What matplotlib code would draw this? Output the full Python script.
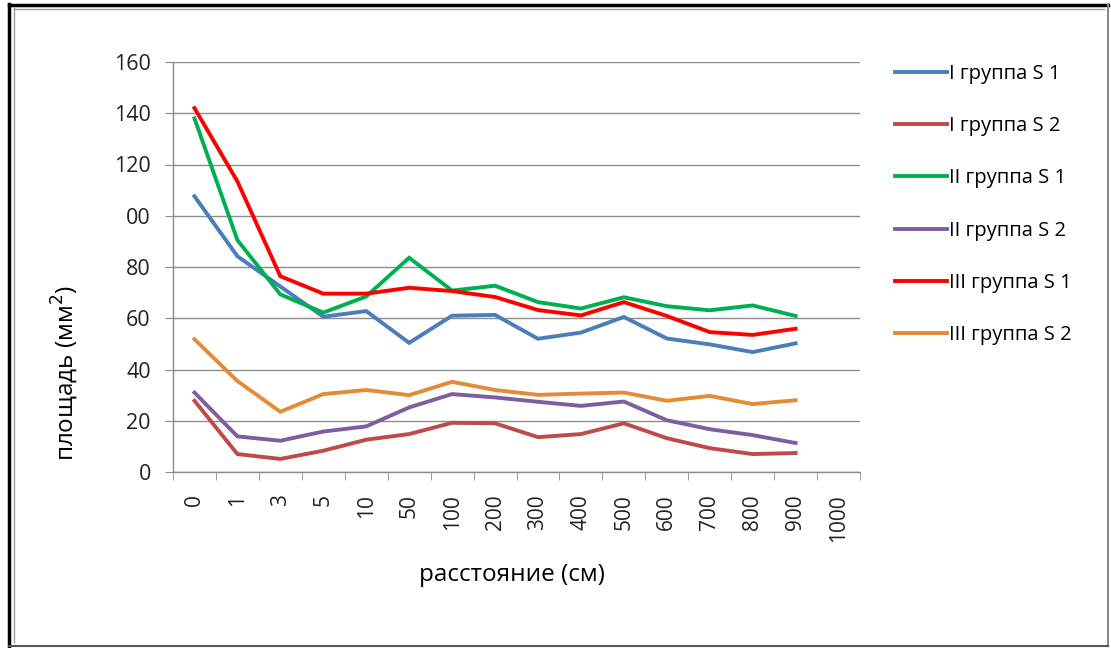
import matplotlib.pyplot as plt
from matplotlib.lines import Line2D

plt.rcParams['font.family'] = ['Open Sans', 'DejaVu Sans']

# distances (cm) on the category axis
distances = ['0', '1', '3', '5', '10', '50', '100', '200', '300', '400',
             '500', '600', '700', '800', '900', '1000']

# areas (mm^2), values, 900 is the last point
g1_s1 = [107.6, 84.2, 72.4, 60.6, 62.8, 50.4, 61.0, 61.3, 52.0, 54.4, 60.5, 52.1, 49.8, 46.8, 50.2]
g1_s2 = [27.8, 7.0, 5.1, 8.3, 12.6, 14.8, 19.2, 19.0, 13.6, 14.8, 19.0, 13.2, 9.3, 7.0, 7.4]
g2_s1 = [138.0, 90.5, 69.3, 62.2, 68.5, 83.6, 70.8, 72.7, 66.3, 63.8, 68.2, 64.7, 63.1, 65.0, 60.9]
g2_s2 = [31.0, 13.9, 12.2, 15.8, 17.8, 25.2, 30.4, 29.1, 27.4, 25.8, 27.5, 20.2, 16.7, 14.4, 11.3]
g3_s1 = [142.0, 113.4, 76.4, 69.6, 69.6, 71.9, 70.6, 68.3, 63.2, 61.1, 66.3, 60.9, 54.6, 53.5, 55.9]
g3_s2 = [51.8, 35.5, 23.5, 30.4, 32.0, 30.0, 35.2, 32.0, 30.1, 30.6, 31.0, 27.8, 29.7, 26.5, 28.0]

series = [
    ('I группа S 1', g1_s1, '#4A7EBB'),
    ('I группа S 2', g1_s2, '#BE4B48'),
    ('II группа S 1', g2_s1, '#00B050'),
    ('II группа S 2', g2_s2, '#7D5FA0'),
    ('III группа S 1', g3_s1, '#FF0000'),
    ('III группа S 2', g3_s2, '#E38B36'),
]

y_ticks = [0, 20, 40, 60, 80, 100, 120, 140, 160]
y_labels = ['0', '20', '40', '60', '80', '00', '120', '140', '160']

W, H = 1111, 648
fig = plt.figure(figsize=(W / 100, H / 100), dpi=100)
ax = fig.add_axes([173 / W, 1 - 472 / H, 687 / W, 410 / H])

for name, vals, col in series:
    ax.plot(range(len(vals)), vals, color=col, lw=2.8, label=name,
            solid_joinstyle='miter')

ax.set_xlim(-0.5, len(distances) - 0.5)
ax.set_ylim(0, 160)
ax.set_yticks(y_ticks)
ax.set_yticklabels(y_labels, fontsize=15.5, color='#222222')
ax.yaxis.grid(True, color='#8c8c8c', lw=1.0)
ax.set_axisbelow(True)

ax.set_xticks(range(len(distances)))
ax.set_xticklabels(distances, rotation=90, fontsize=15, color='#222222')
ax.tick_params(axis='x', which='major', length=0, pad=16)
ax.set_xticks([i - 0.5 for i in range(len(distances) + 1)], minor=True)
ax.tick_params(axis='x', which='minor', length=6, color='#8c8c8c')
ax.tick_params(axis='y', length=6, color='#8c8c8c', pad=10)

for s in ['top', 'right']:
    ax.spines[s].set_visible(False)
for s in ['left', 'bottom']:
    ax.spines[s].set_color('#8c8c8c')
    ax.spines[s].set_linewidth(1.0)

fig.text(65 / W, 1 - 373 / H, 'площадь (мм$^2$)', rotation=90,
         ha='center', va='center', fontsize=17.5)
fig.text(512 / W, 1 - 575 / H, 'расстояние (см)',
         ha='center', va='center', fontsize=17.5)

fig.legend(loc='upper left', bbox_to_anchor=(895 / W, 1 - 64 / H),
           frameon=False, fontsize=14.5, handlelength=2.6, handletextpad=0.1,
           labelspacing=1.6, borderpad=0, borderaxespad=0)

# picture frame: black on left/top, grey on right/bottom
frame = [
    ([9, 9], [4, 646], 'black', 2.5),
    ([9, 1108], [5, 5], 'black', 2.5),
    ([1108, 1108], [4, 646], '#8a8a8a', 1.5),
    ([9, 1108], [646, 646], '#555555', 1.5),
    ([13.5, 13.5], [8, 642], '#9a9a9a', 1.0),
    ([13.5, 1104], [9, 9], '#9a9a9a', 1.0),
]
for xs, ys, col, lw in frame:
    fig.add_artist(Line2D([x / W for x in xs], [1 - y / H for y in ys],
                          transform=fig.transFigure, color=col, lw=lw))

fig.savefig('out.png', dpi=100)
